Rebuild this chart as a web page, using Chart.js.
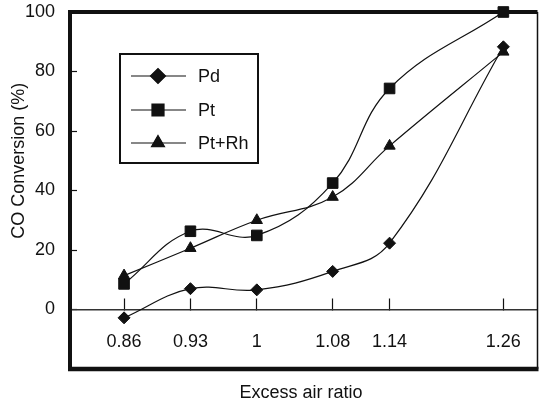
<!DOCTYPE html>
<html>
<head>
<meta charset="utf-8">
<script src="https://cdn.jsdelivr.net/npm/chart.js@4/dist/chart.umd.min.js"></script>
<style>
  html, body { margin: 0; padding: 0; background: #fff; }
  #wrap { width: 546px; height: 408px; position: relative; }
</style>
</head>
<body>
<div id="wrap"><canvas id="c" width="546" height="408"></canvas></div>
<script>
// ---- data ----
const xValues = [0.86, 0.93, 1.00, 1.08, 1.14, 1.26];
const xTickLabels = ['0.86', '0.93', '1', '1.08', '1.14', '1.26'];
const seriesNames = ['Pd', 'Pt', 'Pt+Rh'];
const pdValues   = [-2.8, 7.0, 6.6, 12.8, 22.3, 88.3];
const ptValues   = [8.6, 26.3, 24.9, 42.5, 74.3, 100];
const ptRhValues = [11.4, 20.6, 30.0, 37.8, 55.0, 86.6];
const yTickValues = [0, 20, 40, 60, 80, 100];
const xTitle = 'Excess air ratio';
const yTitle = 'CO Conversion (%)';

const FONT = '"Liberation Sans", Arial, Helvetica, sans-serif';
const INK = '#111';

function pts(vals) { return xValues.map((x, i) => ({ x: x, y: vals[i] })); }

const styles = [
  { pointStyle: 'rectRot', radius: 6, legendRadius: 7.5 },
  { pointStyle: 'rect', radius: 7.5, legendRadius: 8.5 },
  { pointStyle: 'triangle', radius: 6.5, legendRadius: 7.5 }
];
const allValues = [pdValues, ptValues, ptRhValues];

const datasets = allValues.map((vals, i) => ({
  label: seriesNames[i],
  data: pts(vals),
  borderColor: INK,
  backgroundColor: INK,
  borderWidth: 1.2,
  pointStyle: styles[i].pointStyle,
  pointRadius: styles[i].radius,
  pointBackgroundColor: INK,
  pointBorderColor: INK,
  pointBorderWidth: 1,
  tension: 0.4,
  clip: false
}));

const framePlugin = {
  id: 'frame',
  afterDraw(chart) {
    const ctx = chart.ctx;
    const a = chart.chartArea;
    ctx.save();
    ctx.strokeStyle = INK;
    ctx.lineWidth = 4;
    ctx.beginPath(); ctx.moveTo(a.left - 2, a.top); ctx.lineTo(a.right, a.top); ctx.stroke();
    ctx.lineWidth = 4.5;
    ctx.beginPath(); ctx.moveTo(a.left - 2, a.bottom); ctx.lineTo(a.right + 1, a.bottom); ctx.stroke();
    ctx.lineWidth = 1.5;
    ctx.beginPath(); ctx.moveTo(a.right, a.top); ctx.lineTo(a.right, a.bottom); ctx.stroke();

    ctx.fillStyle = INK;
    ctx.font = '18px ' + FONT;
    ctx.textAlign = 'center';
    ctx.textBaseline = 'middle';
    ctx.fillText(xTitle, 301, 393);
    const ys = chart.scales.y;
    ctx.save();
    ctx.translate(19, ys.getPixelForValue(50));
    ctx.rotate(-Math.PI / 2);
    ctx.fillText(yTitle, 0, 0);
    ctx.restore();

    const bx = 120, by = 54, bw = 138, bh = 109;
    ctx.fillStyle = '#fff';
    ctx.fillRect(bx, by, bw, bh);
    ctx.lineWidth = 2;
    ctx.strokeStyle = INK;
    ctx.strokeRect(bx, by, bw, bh);
    const rowY = [76, 110, 143];
    chart.data.datasets.forEach((ds, i) => {
      const y = rowY[i];
      ctx.lineWidth = 1.2;
      ctx.strokeStyle = INK;
      ctx.beginPath(); ctx.moveTo(131, y); ctx.lineTo(186, y); ctx.stroke();
      ctx.fillStyle = INK;
      Chart.helpers.drawPoint(ctx, { pointStyle: ds.pointStyle, radius: styles[i].legendRadius, borderWidth: 1, rotation: 0 }, 158, y);
      ctx.fill();
      ctx.fillStyle = INK;
      ctx.font = '18px ' + FONT;
      ctx.textAlign = 'left';
      ctx.textBaseline = 'middle';
      ctx.fillText(ds.label, 198, y + 1);
    });
    ctx.restore();
  }
};

function noOverflow(scale) {
  scale.paddingTop = 0; scale.paddingBottom = 0;
  scale.paddingLeft = 0; scale.paddingRight = 0;
}

const chart = new Chart(document.getElementById('c'), {
  type: 'line',
  data: { datasets: datasets },
  options: {
    responsive: false,
    animation: false,
    events: [],
    layout: { padding: { top: 12, right: 4, bottom: 39, left: 0 } },
    plugins: { legend: { display: false }, tooltip: { enabled: false } },
    scales: {
      x: {
        type: 'linear',
        min: 0.803,
        max: 1.296,
        position: { y: 0 },
        afterFit: noOverflow,
        afterBuildTicks(scale) { scale.ticks = xValues.map(v => ({ value: v })); },
        ticks: {
          autoSkip: false,
          maxRotation: 0,
          color: INK,
          font: { family: FONT, size: 18 },
          padding: 34,
          callback(v) { const i = xValues.indexOf(v); return i >= 0 ? xTickLabels[i] : ''; }
        },
        grid: { drawOnChartArea: false, drawTicks: true, tickLength: -12, color: INK, tickWidth: 1.2 },
        border: { display: true, color: '#333', width: 1.5 }
      },
      y: {
        type: 'linear',
        min: -20,
        max: 100,
        position: 'left',
        afterFit(scale) { scale.width = 70; noOverflow(scale); },
        afterBuildTicks(scale) { scale.ticks = yTickValues.map(v => ({ value: v })); },
        ticks: {
          color: INK,
          font: { family: FONT, size: 18 },
          padding: 22,
          callback(v) { return String(v); }
        },
        grid: { drawOnChartArea: false, drawTicks: true, tickLength: -7, color: INK, tickWidth: 1.2 },
        border: { display: true, color: INK, width: 4 }
      }
    }
  },
  plugins: [framePlugin]
});

// align plot area with the reference frame
const target = { left: 70, top: 12, right: 542, bottom: 369 };
const pad = { top: 12, right: 4, bottom: 39, left: 0 };
for (let k = 0; k < 4; k++) {
  const a = chart.chartArea;
  pad.top += target.top - a.top;
  pad.bottom += a.bottom - target.bottom;
  pad.right += a.right - target.right;
  pad.left += target.left - a.left;
  chart.config.options.layout.padding = { top: pad.top, right: pad.right, bottom: pad.bottom, left: pad.left };
  chart.update('none');
}
</script>
</body>
</html>
